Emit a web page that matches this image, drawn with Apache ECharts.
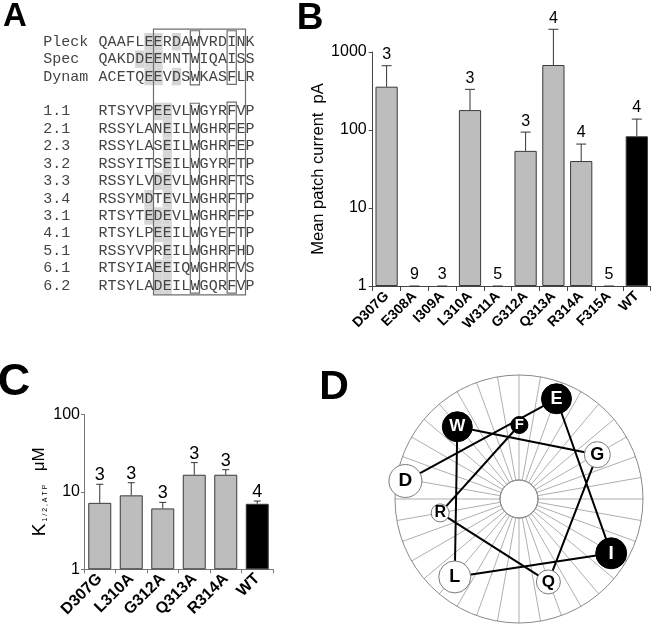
<!DOCTYPE html>
<html>
<head>
<meta charset="utf-8">
<script src="https://cdn.jsdelivr.net/npm/echarts@6/dist/echarts.min.js"></script>
<style>
html,body{margin:0;padding:0;background:#fff;}
#chart{width:655px;height:627px;}
</style>
</head>
<body>
<div id="chart"></div>
<script>
// ---------- Panel A: alignment ----------
const seqNames = ['Pleck','Spec','Dynam','','1.1','2.1','2.3','3.2','3.3','3.4','3.1','4.1','5.1','6.1','6.2'];
const seqs = ['QAAFLEERDAWVRDINK','QAKDDEEMNTWIQAISS','ACETQEEVDSWKASFLR','',
  'RTSYVPEEVLWGYRFVP','RSSYLANEILWGHRFEP','RSSYLASEILWGHRFEP','RSSYITSEILWGYRFTP',
  'RSSYLVDEVLWGHRFTS','RSSYMDTEVLWGHRFTP','RTSYTEDEVLWGHRFFP','RTSYLPEEILWGYEFTP',
  'RSSYVPREILWGHRFHD','RTSYIAEEIQWGHRFVS','RTSYLADEILWGQRFVP'];
// highlighted (acidic) columns per row
const hlCols = [[5,6,8],[4,5,6],[5,6,8],[],[6,7],[7],[7],[7],[6,7],[5,7],[5,6,7],[6,7],[7],[6,7],[6,7]];
// outlined boxes: [firstCol, lastCol, topRow, bottomRow]
const boxCols = [[6,15,-0.72,14.53],[10,10,-0.63,2.48],[10,10,3.53,14.43],[14,14,-0.63,2.45],[14,14,3.47,14.43]];

// ---------- Panel B ----------
const bCats = ['D307G','E308A','I309A','L310A','W311A','G312A','Q313A','R314A','F315A','WT'];
const bMean = [359, 1, 1, 180, 1, 54, 681, 40, 1, 83];
const bErrTop = [667, 1, 1, 332, 1, 94, 1956, 66, 1, 138];
const bN = [3, 9, 3, 3, 5, 3, 4, 4, 5, 4];

// ---------- Panel C ----------
const cCats = ['D307G','L310A','G312A','Q313A','R314A','WT'];
const cMean = [7.2, 9.0, 6.1, 16.6, 16.6, 7.0];
const cErrTop = [12.5, 13.1, 7.3, 23.8, 19.3, 7.6];
const cN = [3, 3, 3, 3, 3, 4];

// ---------- Panel D: helical wheel ----------
const wheelRes = ['D','E','I','L','W','G','Q','R','F'];
const wheelAngle = [171, 69.5, 329.5, 230.5, 130.5, 29.5, 289.5, 190, 89.7];
const wheelRadius = [115, 107, 107, 101, 95, 90, 88, 80, 74];
const wheelFilled = [0, 1, 1, 0, 1, 0, 0, 0, 1];

// ---------- styles ----------
const SANS = '"Liberation Sans", Arial, Helvetica, sans-serif';
const MONO = '"Liberation Mono", "Courier New", monospace';
const wheelSize = {D:33, E:30, I:31, L:32, W:30, G:26, Q:24, R:18, F:17};
const wheelFont = {D:19, E:18, I:19, L:18, W:17, G:18, Q:17, R:16, F:15};

const chart = echarts.init(document.getElementById('chart'), null, {renderer:'canvas'});

const colIdx = Array.from({length:17}, (_, i) => String(i));
const cellData = [], hlData = [];
seqs.forEach((s, r) => {
  for (let c = 0; c < s.length; c++) {
    cellData.push([c, r, s[c]]);
  }
  hlCols[r].forEach(c => hlData.push([c, r]));
});

function errRender(capW, fs, lblOff) {
  return function (params, api) {
    const i = api.value(0), m = api.value(1), e = api.value(2), n = api.value(3);
    const p1 = api.coord([i, m]);
    const p2 = api.coord([i, e]);
    const topY = Math.min(p1[1], p2[1]);
    return {
      type: 'group',
      children: [
        {type:'line', shape:{x1:p1[0], y1:p1[1], x2:p2[0], y2:p2[1]}, style:{stroke:'#333', lineWidth:1}},
        {type:'line', shape:{x1:p2[0]-capW/2, y1:p2[1], x2:p2[0]+capW/2, y2:p2[1]}, style:{stroke:'#333', lineWidth:1}},
        {type:'text', style:{text:String(n), x:p2[0], y:topY - lblOff, align:'center', verticalAlign:'bottom', font: fs + 'px ' + SANS, fill:'#000'}}
      ]
    };
  };
}

const logFmt = v => String(Math.round(v));

const option = {
  animation: false,
  backgroundColor: '#fff',
  grid: [
    {left: 98.3, top: 33, width: 156.4, height: 261.4},
    {left: 372.7, top: 52, width: 278, height: 234},
    {left: 84, top: 414.3, width: 189, height: 155}
  ],
  xAxis: [
    {gridIndex:0, type:'category', data: colIdx, show:false},
    {gridIndex:1, type:'category', data: bCats,
      axisLine:{show:true, lineStyle:{color:'#444', width:1}},
      axisTick:{show:true, length:5, lineStyle:{color:'#444'}},
      axisLabel:{interval:0, rotate:45, margin:8, fontSize:14, fontWeight:'bold', color:'#000', fontFamily:SANS}},
    {gridIndex:2, type:'category', data: cCats,
      axisLine:{show:true, lineStyle:{color:'#777', width:1}},
      axisTick:{show:true, length:4, lineStyle:{color:'#777'}},
      axisLabel:{interval:0, rotate:45, margin:7, fontSize:16, fontWeight:'bold', color:'#000', fontFamily:SANS}}
  ],
  yAxis: [
    {gridIndex:0, type:'category', inverse:true, data: seqNames,
      axisLine:{show:false}, axisTick:{show:false}, splitLine:{show:false},
      axisLabel:{interval:0, align:'left', margin:55, fontFamily:MONO, fontSize:15, color:'#444'}},
    {gridIndex:1, type:'log', logBase:10, min:1, max:1000,
      name:'Mean patch current  pA', nameLocation:'middle', nameGap:40,
      nameTextStyle:{fontSize:16.5, color:'#000', fontFamily:SANS},
      axisLine:{show:true, lineStyle:{color:'#444'}},
      axisTick:{show:true, length:4, lineStyle:{color:'#444'}},
      splitLine:{show:false}, minorTick:{show:false},
      axisLabel:{fontSize:16, margin:6, color:'#000', fontFamily:SANS, formatter: logFmt}},
    {gridIndex:2, type:'log', logBase:10, min:1, max:100,
      name:'{k|K}{s|1 / 2 , A T P}    {u|μM}', nameLocation:'middle', nameGap:35,
      nameTextStyle:{color:'#000', fontFamily:SANS, rich:{
        k:{fontSize:19, fontFamily:SANS, color:'#000', verticalAlign:'middle'},
        s:{fontSize:7, fontFamily:SANS, color:'#000', verticalAlign:'bottom', padding:[12,0,0,2]},
        u:{fontSize:17, fontFamily:SANS, color:'#000', verticalAlign:'middle'}
      }},
      axisLine:{show:true, lineStyle:{color:'#777'}},
      axisTick:{show:true, length:3, lineStyle:{color:'#777'}},
      splitLine:{show:false}, minorTick:{show:false},
      axisLabel:{fontSize:16, margin:4, color:'#000', fontFamily:SANS, formatter: logFmt}}
  ],
  polar: [
    {center:[519, 499], radius:[19, 124]},
    {center:[519, 499], radius:19}
  ],
  angleAxis: [
    {polarIndex:0, type:'value', min:0, max:360, interval:10, startAngle:0, clockwise:false,
      axisLine:{show:true, lineStyle:{color:'#8a8a8a', width:1}},
      axisTick:{show:false}, axisLabel:{show:false},
      splitLine:{show:true, lineStyle:{color:'#9a9a9a', width:0.8}}},
    {polarIndex:1, type:'value', min:0, max:360, startAngle:0, clockwise:false,
      axisLine:{show:true, lineStyle:{color:'#8a8a8a', width:1}},
      axisTick:{show:false}, axisLabel:{show:false}, splitLine:{show:false}}
  ],
  radiusAxis: [
    {polarIndex:0, type:'value', min:19, max:124,
      axisLine:{show:false}, axisTick:{show:false}, axisLabel:{show:false}, splitLine:{show:false}},
    {polarIndex:1, type:'value', min:0, max:19,
      axisLine:{show:false}, axisTick:{show:false}, axisLabel:{show:false}, splitLine:{show:false}}
  ],
  graphic: [
    {type:'text', x:15, y:17, style:{text:'A', font:'bold 33px ' + SANS, fill:'#000', align:'center', verticalAlign:'middle'}},
    {type:'text', x:310, y:19, style:{text:'B', font:'bold 37px ' + SANS, fill:'#000', align:'center', verticalAlign:'middle'}},
    {type:'text', x:14, y:383, style:{text:'C', font:'bold 45px ' + SANS, fill:'#000', align:'center', verticalAlign:'middle'}},
    {type:'text', x:334, y:388, style:{text:'D', font:'bold 41px ' + SANS, fill:'#000', align:'center', verticalAlign:'middle'}}
  ],
  series: [
    // A: highlights
    {type:'custom', xAxisIndex:0, yAxisIndex:0, z:1, data: hlData,
      renderItem: (params, api) => {
        const p = api.coord([api.value(0), api.value(1)]);
        const sz = api.size([1, 1]);
        return {type:'rect', shape:{x:p[0]-sz[0]/2, y:p[1]-sz[1]/2, width:sz[0], height:sz[1]}, style:{fill:'#d6d6d6'}};
      }},
    // A: boxes
    {type:'custom', xAxisIndex:0, yAxisIndex:0, z:2, data: boxCols,
      renderItem: (params, api) => {
        const p0 = api.coord([0, 0]);
        const sz = api.size([1, 1]);
        const x1 = p0[0] + (api.value(0) - 0.5) * sz[0];
        const x2 = p0[0] + (api.value(1) + 0.5) * sz[0];
        const y1 = p0[1] + api.value(2) * sz[1];
        const y2 = p0[1] + api.value(3) * sz[1];
        return {type:'rect', shape:{x:x1, y:y1, width:x2-x1, height:y2-y1}, style:{fill:'none', stroke:'#6e6e6e', lineWidth:1.2}};
      }},
    // A: letters
    {type:'custom', xAxisIndex:0, yAxisIndex:0, z:3, data: cellData,
      renderItem: (params, api) => {
        const d = cellData[params.dataIndex];
        const p = api.coord([d[0], d[1]]);
        return {type:'text', style:{text:d[2], x:p[0], y:p[1], align:'center', verticalAlign:'middle', font:'15px ' + MONO, fill:'#444'}};
      }},
    // B bars
    {type:'bar', xAxisIndex:1, yAxisIndex:1, barWidth:'80%',
      data: bMean.map((v, i) => ({value:v, itemStyle:{color: bCats[i]==='WT' ? '#000' : '#bdbdbd', borderColor: v > 1 ? '#3a3a3a' : 'transparent', borderWidth: v > 1 ? 1 : 0}}))},
    {type:'custom', xAxisIndex:1, yAxisIndex:1, z:5, clip:false,
      data: bCats.map((c, i) => [i, bMean[i], bErrTop[i], bN[i]]),
      encode:{x:0, y:1},
      renderItem: errRender(10, 16, 3)},
    // C bars
    {type:'bar', xAxisIndex:2, yAxisIndex:2, barWidth:'73%',
      data: cMean.map((v, i) => ({value:v, itemStyle:{color: cCats[i]==='WT' ? '#000' : '#bdbdbd', borderColor:'#3a3a3a', borderWidth:1}}))},
    {type:'custom', xAxisIndex:2, yAxisIndex:2, z:5, clip:false,
      data: cCats.map((c, i) => [i, cMean[i], cErrTop[i], cN[i]]),
      encode:{x:0, y:1},
      renderItem: errRender(7, 18, 0)},
    // D lines
    {type:'line', coordinateSystem:'polar', polarIndex:0, symbol:'none', z:3,
      lineStyle:{color:'#000', width:2},
      data: wheelRes.map((r, i) => [wheelRadius[i], wheelAngle[i]])},
    // D residues
    {type:'scatter', coordinateSystem:'polar', polarIndex:0, z:4,
      data: wheelRes.map((r, i) => ({
        name: r,
        value: [wheelRadius[i], wheelAngle[i]],
        symbolSize: wheelSize[r],
        itemStyle: {color: wheelFilled[i] ? '#000' : '#fff', borderColor: wheelFilled[i] ? '#000' : '#7a7a7a', borderWidth: 1, opacity: 1},
        label: {color: wheelFilled[i] ? '#fff' : '#000', fontSize: wheelFont[r]}
      })),
      itemStyle:{opacity:1},
      label:{show:true, position:'inside', formatter: p => p.name, fontWeight:'bold', fontFamily:SANS}}
  ]
};
chart.setOption(option);
</script>
</body>
</html>
